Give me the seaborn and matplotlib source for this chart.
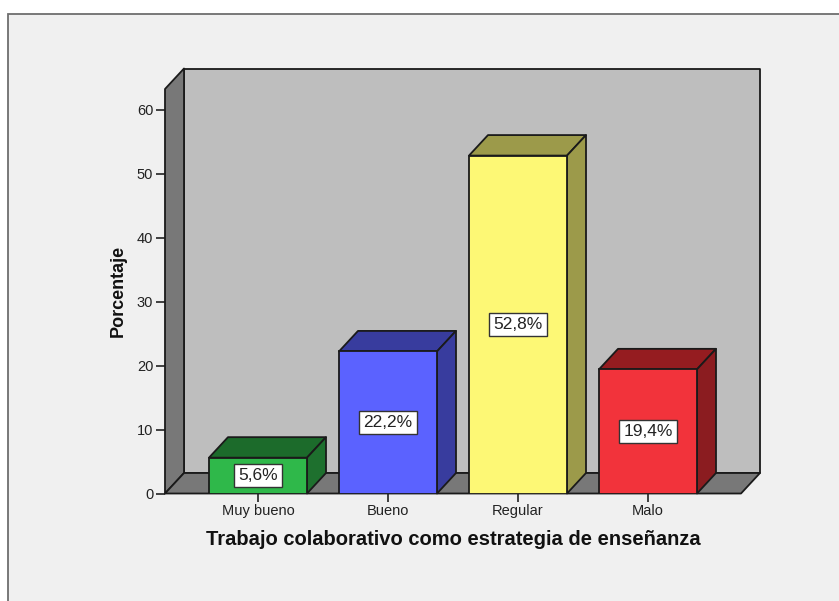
import matplotlib
matplotlib.use('Agg')
import matplotlib.pyplot as plt
from matplotlib.patches import Polygon, Rectangle
import seaborn as sns

# Data
categories = ['Muy bueno', 'Bueno', 'Regular', 'Malo']
values = [5.6, 22.2, 52.8, 19.4]
labels = ['5,6%', '22,2%', '52,8%', '19,4%']
yticks = [0, 10, 20, 30, 40, 50, 60]

front_colors = ['#2fb84a', '#5b62ff', '#fdf875', '#f2333b']
top_colors = ['#1c6b2b', '#383c9e', '#9c9a4a', '#951c20']
side_colors = ['#1e702e', '#383c9e', '#9c9a4a', '#8b1c20']

W, H = 839, 601
sns.set_theme(style='white')
plt.rcParams['font.family'] = ['Liberation Sans', 'DejaVu Sans']

fig = plt.figure(figsize=(W / 100, H / 100), dpi=100, facecolor='white')

# Panel with the grey frame, only the top and left edge are inside the picture
fig.add_artist(Rectangle((8 / W, -0.05), 1.0, 1.05 - 14 / H, transform=fig.transFigure,
                         facecolor='#f0f0f0', edgecolor='#6e6e6e', linewidth=1.3, zorder=-1))

# Axes cover the front plane of the 3D box
px_per_unit = 6.4
x0, x1, y_base, y_top = 165, 741, 493.5, 89
ax = fig.add_axes([x0 / W, 1 - y_base / H, (x1 - x0) / W, (y_base - y_top) / H])
ax.patch.set_visible(False)

sns.barplot(x=categories, y=values, hue=categories, palette=front_colors, saturation=1,
            width=98 / 130, edgecolor='#1a1a1a', linewidth=1.3, legend=False, ax=ax, zorder=5)
ax.set_xlim((x0 - 258) / 130, (x1 - 258) / 130)
ax.set_ylim(0, (y_base - y_top) / px_per_unit)

# Depth of the 3D effect in data units
dx = 19 / 130
dy = 20.5 / px_per_unit
left, right = ax.get_xlim()
top = ax.get_ylim()[1]
line = dict(edgecolor='#1a1a1a', linewidth=1.3, clip_on=False, joinstyle='round')

# Back wall, left wall and floor
ax.add_patch(Polygon([(left + dx, dy), (right + dx, dy), (right + dx, top + dy), (left + dx, top + dy)],
                     facecolor='#bebebe', zorder=1, **line))
ax.add_patch(Polygon([(left, 0), (left + dx, dy), (left + dx, top + dy), (left, top)],
                     facecolor='#787878', zorder=2, **line))
ax.add_patch(Polygon([(left, 0), (right, 0), (right + dx, dy), (left + dx, dy)],
                     facecolor='#787878', zorder=2, **line))

# Top and side faces of every bar
bars = [b for c in ax.containers for b in c]
for bar, tc, sc, lab in zip(bars, top_colors, side_colors, labels):
    xa = bar.get_x()
    xb = xa + bar.get_width()
    h = bar.get_height()
    ax.add_patch(Polygon([(xa, h), (xb, h), (xb + dx, h + dy), (xa + dx, h + dy)],
                         facecolor=tc, zorder=4, **line))
    ax.add_patch(Polygon([(xb, 0), (xb + dx, dy), (xb + dx, h + dy), (xb, h)],
                         facecolor=sc, zorder=4, **line))
    ax.text((xa + xb) / 2, h / 2, lab, ha='center', va='center', fontsize=12.5, color='#222222', zorder=6,
            bbox=dict(boxstyle='square,pad=0.24', facecolor='white', edgecolor='#333333', linewidth=1))

sns.despine(ax=ax, left=True, bottom=True)
ax.set_yticks(yticks)
ax.tick_params(axis='y', length=6.5, width=1.2, color='#222222', labelsize=10.5, labelcolor='#222222', pad=2, left=True)
ax.tick_params(axis='x', length=5.5, width=1.2, color='#222222', labelsize=10.5, labelcolor='#222222', pad=2, bottom=True)

ax.set_xlabel('Trabajo colaborativo como estrategia de enseñanza', fontsize=14.5, fontweight='bold',
              color='#111111', labelpad=8.5)
ax.set_ylabel('Porcentaje', fontsize=13, fontweight='bold', color='#111111', labelpad=7)

fig.savefig('out.png', dpi=100)
